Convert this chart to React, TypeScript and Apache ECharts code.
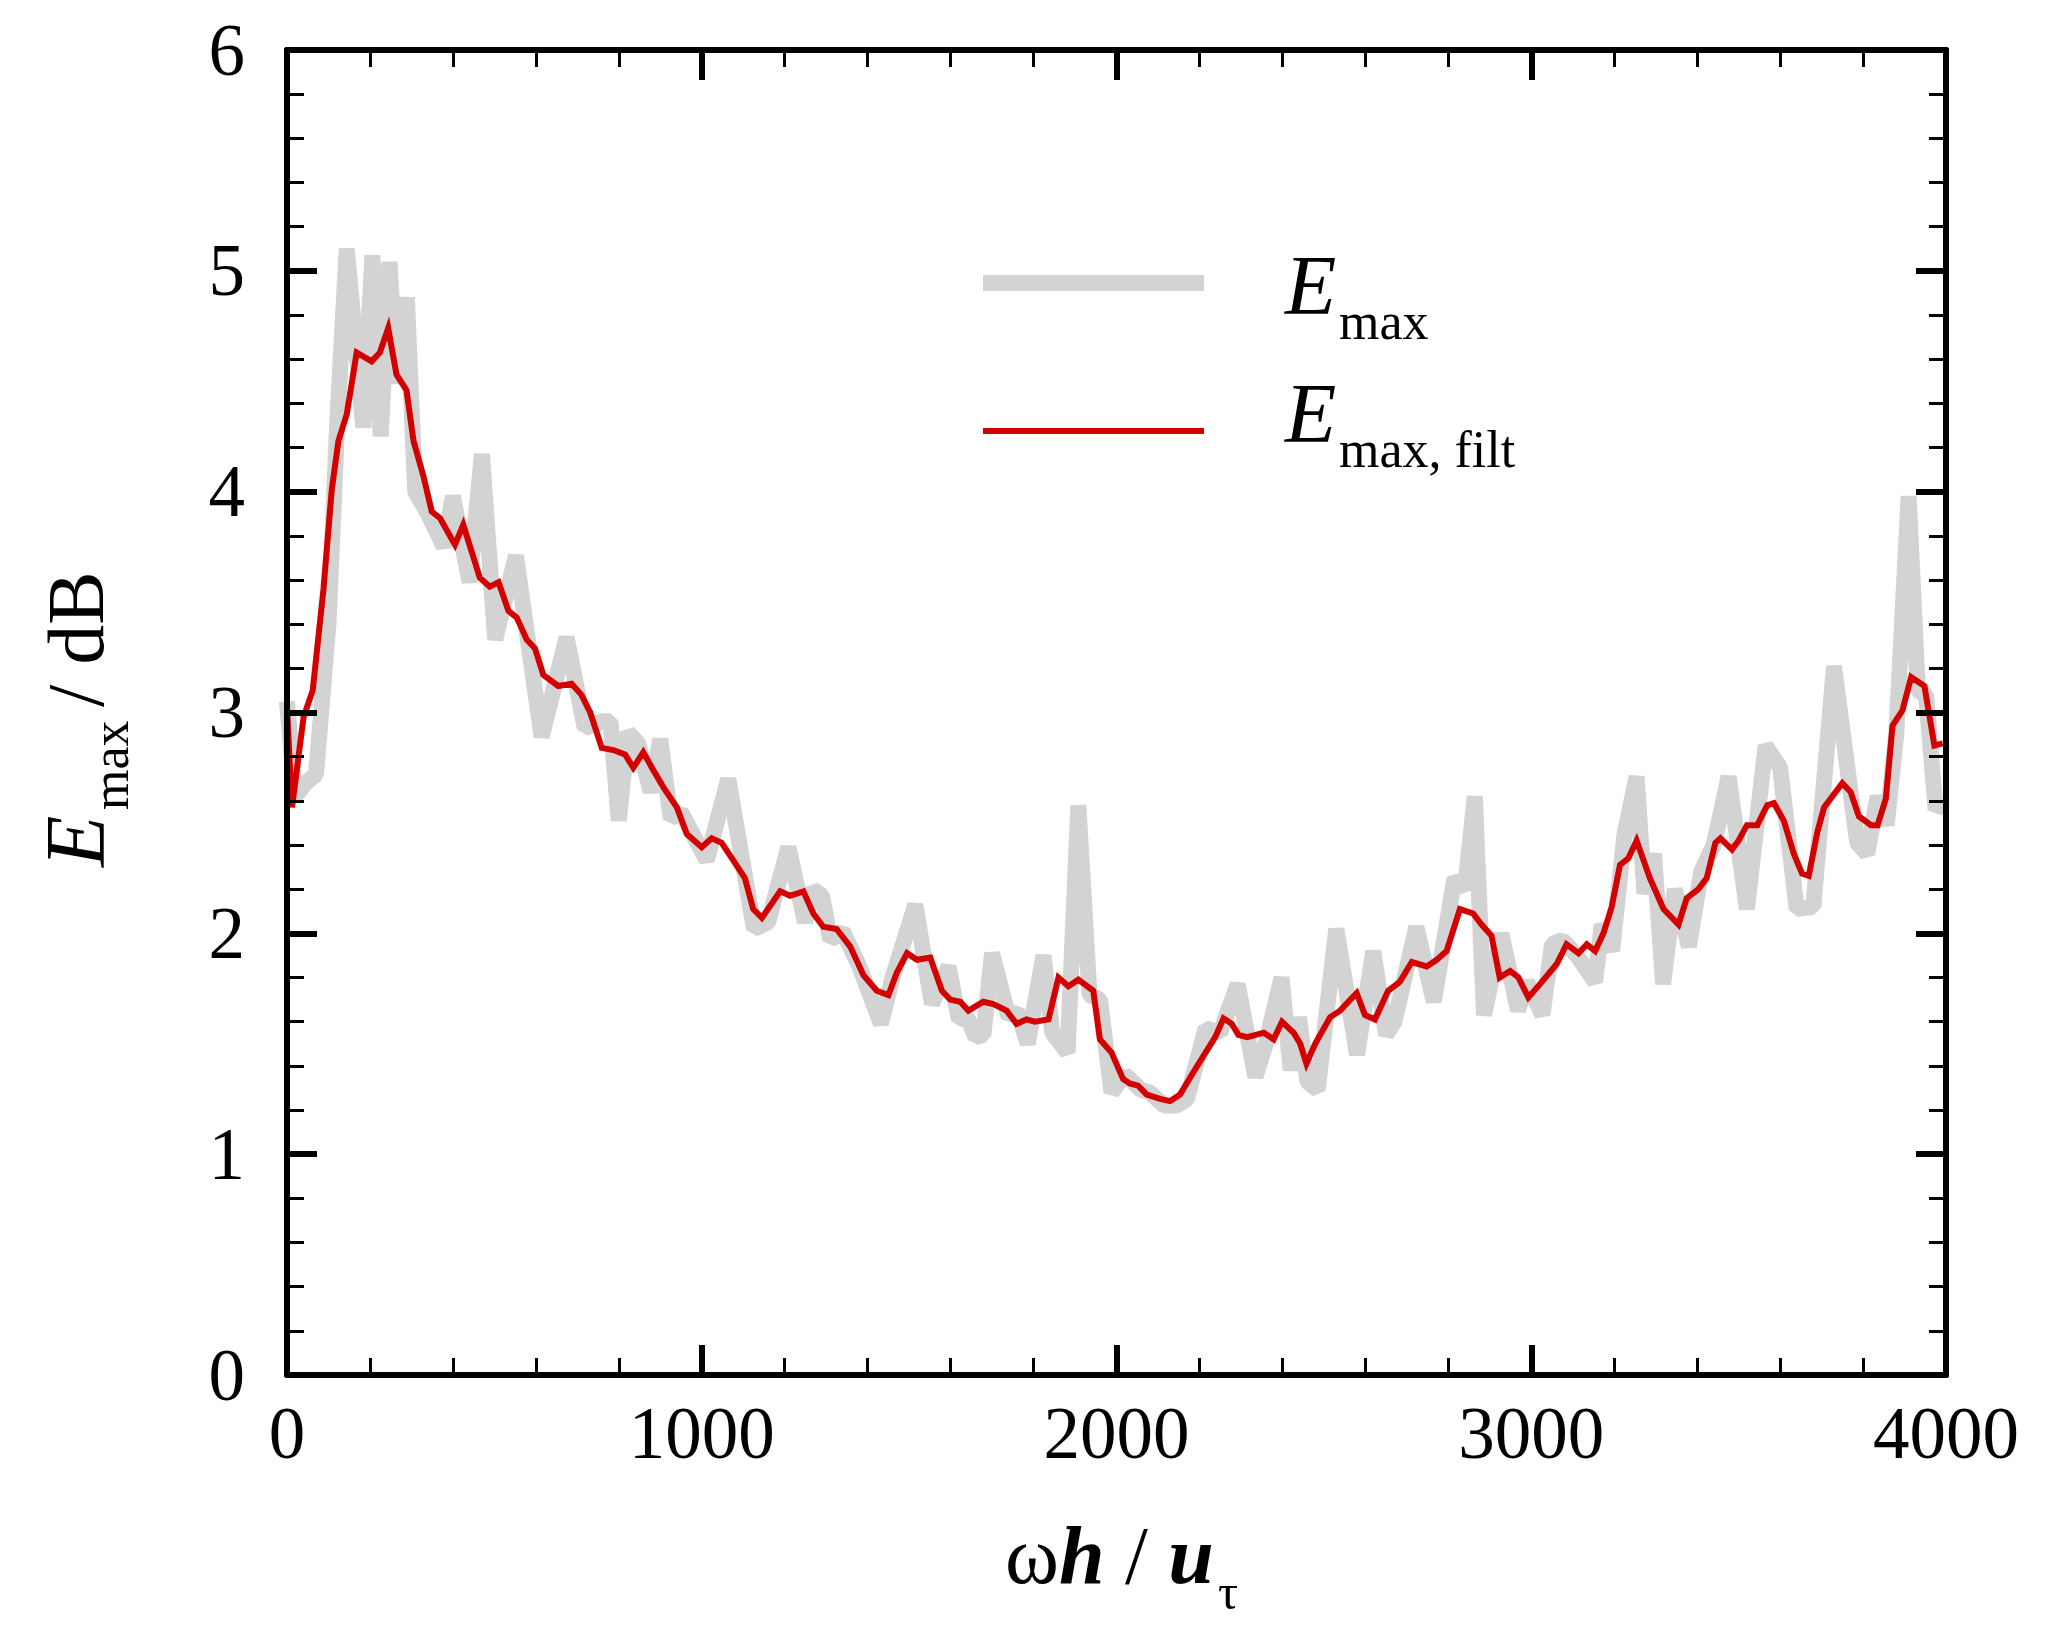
import React, { useEffect, useRef } from "react";
import * as echarts from "echarts";

// ---- data ----
const grayX = [0, 20, 45, 70, 100, 122, 144, 164, 184, 206, 226, 247, 265, 289, 309, 340, 378, 400, 440, 470, 502, 552, 614, 674, 718, 760, 780, 800, 822, 847, 877, 900, 925, 950, 992, 1012, 1064, 1126, 1160, 1209, 1249, 1268, 1290, 1310, 1340, 1380, 1432, 1460, 1515, 1555, 1595, 1620, 1640, 1660, 1679, 1700, 1740, 1760, 1786, 1824, 1845, 1882, 1908, 1935, 1960, 1988, 2020, 2060, 2080, 2115, 2145, 2170, 2215, 2250, 2292, 2335, 2360, 2398, 2420, 2440, 2460, 2485, 2530, 2580, 2619, 2650, 2670, 2723, 2765, 2815, 2840, 2864, 2886, 2928, 2968, 2990, 3027, 3050, 3075, 3110, 3154, 3170, 3195, 3225, 3254, 3273, 3296, 3318, 3346, 3380, 3410, 3440, 3476, 3520, 3565, 3600, 3640, 3680, 3730, 3786, 3810, 3835, 3857, 3880, 3910, 3932, 3952, 3975, 3995];
const grayY = [3.05, 2.62, 2.68, 2.72, 3.4, 4.35, 5.1, 4.7, 4.29, 5.07, 4.25, 5.04, 4.49, 4.88, 4.0, 3.9, 3.75, 3.98, 3.59, 4.17, 3.33, 3.71, 2.89, 3.34, 2.93, 2.96, 2.96, 2.51, 2.91, 2.86, 2.64, 2.88, 2.52, 2.55, 2.4, 2.33, 2.7, 2.02, 2.05, 2.39, 2.05, 2.2, 2.17, 1.97, 2.01, 1.85, 1.59, 1.8, 2.13, 1.68, 1.85, 1.61, 1.62, 1.53, 1.54, 1.91, 1.62, 1.65, 1.5, 1.9, 1.55, 1.46, 2.58, 1.72, 1.7, 1.28, 1.36, 1.29, 1.28, 1.22, 1.22, 1.25, 1.57, 1.55, 1.77, 1.35, 1.5, 1.8, 1.38, 1.62, 1.33, 1.29, 2.02, 1.45, 1.92, 1.54, 1.6, 2.03, 1.69, 2.25, 2.2, 2.62, 1.63, 2.0, 1.65, 1.78, 1.63, 1.95, 1.97, 1.9, 1.78, 2.04, 1.92, 2.45, 2.71, 2.18, 2.36, 1.77, 2.2, 1.94, 2.28, 2.4, 2.71, 2.11, 2.85, 2.75, 2.11, 2.12, 3.21, 2.41, 2.36, 2.62, 2.49, 2.9, 3.98, 3.1, 3.08, 2.56, 2.6];

const redX = [0, 12, 40, 62, 88, 108, 124, 144, 168, 204, 224, 244, 264, 288, 305, 329, 349, 369, 405, 425, 465, 489, 510, 534, 554, 578, 598, 618, 654, 686, 710, 731, 759, 787, 815, 835, 859, 883, 908, 940, 964, 1000, 1024, 1048, 1076, 1104, 1124, 1145, 1189, 1213, 1245, 1269, 1293, 1325, 1358, 1390, 1422, 1450, 1470, 1495, 1519, 1551, 1579, 1599, 1623, 1643, 1679, 1703, 1735, 1759, 1783, 1803, 1836, 1860, 1884, 1908, 1944, 1960, 1988, 2016, 2032, 2052, 2073, 2105, 2129, 2153, 2185, 2218, 2238, 2258, 2278, 2294, 2315, 2355, 2379, 2399, 2427, 2443, 2458, 2479, 2515, 2539, 2579, 2599, 2623, 2655, 2683, 2712, 2748, 2772, 2796, 2828, 2860, 2880, 2904, 2924, 2949, 2969, 2993, 3021, 3061, 3085, 3114, 3134, 3154, 3174, 3194, 3214, 3234, 3254, 3286, 3319, 3355, 3375, 3403, 3423, 3444, 3456, 3484, 3500, 3520, 3545, 3569, 3585, 3609, 3633, 3653, 3669, 3690, 3706, 3750, 3770, 3790, 3819, 3835, 3855, 3871, 3895, 3916, 3948, 3972, 3992];
const redY = [3.02, 2.57, 2.98, 3.1, 3.56, 4.01, 4.23, 4.35, 4.63, 4.59, 4.63, 4.74, 4.53, 4.46, 4.23, 4.07, 3.91, 3.88, 3.76, 3.85, 3.61, 3.57, 3.59, 3.46, 3.43, 3.33, 3.29, 3.17, 3.12, 3.13, 3.08, 3.0, 2.84, 2.83, 2.81, 2.75, 2.82, 2.74, 2.66, 2.57, 2.45, 2.39, 2.43, 2.41, 2.33, 2.25, 2.11, 2.07, 2.19, 2.17, 2.19, 2.09, 2.03, 2.02, 1.94, 1.81, 1.74, 1.72, 1.82, 1.91, 1.88, 1.89, 1.74, 1.7, 1.69, 1.65, 1.69, 1.68, 1.65, 1.59, 1.61, 1.6, 1.61, 1.8, 1.76, 1.79, 1.74, 1.52, 1.46, 1.34, 1.32, 1.31, 1.27, 1.25, 1.24, 1.27, 1.37, 1.47, 1.53, 1.615, 1.59, 1.54, 1.53, 1.55, 1.52, 1.6, 1.55, 1.5, 1.41, 1.5, 1.62, 1.65, 1.73, 1.63, 1.61, 1.74, 1.78, 1.87, 1.85, 1.88, 1.92, 2.11, 2.09, 2.04, 1.99, 1.8, 1.83, 1.8, 1.71, 1.77, 1.86, 1.95, 1.91, 1.95, 1.92, 2.0, 2.12, 2.31, 2.34, 2.42, 2.25, 2.11, 2.04, 2.16, 2.2, 2.25, 2.41, 2.43, 2.38, 2.42, 2.49, 2.49, 2.58, 2.59, 2.51, 2.36, 2.27, 2.26, 2.46, 2.57, 2.68, 2.64, 2.53, 2.49, 2.49, 2.61, 2.94, 3.01, 3.16, 3.12, 2.85, 2.86];

const xRange = [0, 4000];
const yRange = [0, 6];
const xStep = 1000;
const yStep = 1;

const seriesNames = ["E_max", "E_max, filt"];
const legendSubs = ["max", "max, filt"];

const FONT = '"Liberation Serif", "Times New Roman", serif';

function axisCommon(show: boolean) {
  return {
    axisLine: { show: true, onZero: false, lineStyle: { color: "#000", width: 6 } },
    axisTick: { show: true, inside: true, length: 30, lineStyle: { color: "#000", width: 6 } },
    minorTick: { show: true, splitNumber: 5, length: 17, lineStyle: { color: "#000", width: 3 } },
    splitLine: { show: false },
    minorSplitLine: { show: false },
    z: 5,
    axisLabel: {
      show,
      color: "#000",
      fontFamily: FONT,
      fontSize: 73,
      formatter: (v: number) => String(v),
    },
  };
}

export default function App() {
  const ref = useRef<HTMLDivElement>(null);
  useEffect(() => {
    if (!ref.current) return;
    const chart = echarts.init(ref.current, null, { renderer: "svg" });
    const gray = grayX.map((x, i) => [x, grayY[i]]);
    const red = redX.map((x, i) => [x, redY[i]]);
    const xb = axisCommon(true);
    const yb = axisCommon(true);
    const option: any = {
      animation: false,
      backgroundColor: "#fff",
      grid: { left: 287, right: 102, top: 50, bottom: 264, containLabel: false },
      xAxis: [
        {
          type: "value",
          min: xRange[0],
          max: xRange[1],
          interval: xStep,
          position: "bottom",
          ...xb,
          axisLabel: { ...xb.axisLabel, margin: 22 },
        },
        {
          type: "value",
          min: xRange[0],
          max: xRange[1],
          interval: xStep,
          position: "top",
          ...axisCommon(false),
        },
      ],
      yAxis: [
        {
          type: "value",
          min: yRange[0],
          max: yRange[1],
          interval: yStep,
          position: "left",
          ...yb,
          axisLabel: { ...yb.axisLabel, margin: 42 },
        },
        {
          type: "value",
          min: yRange[0],
          max: yRange[1],
          interval: yStep,
          position: "right",
          ...axisCommon(false),
        },
      ],
      series: [
        {
          name: seriesNames[0],
          type: "line",
          data: gray,
          showSymbol: false,
          symbol: "none",
          lineStyle: { color: "#d3d3d3", width: 16, join: "bevel", cap: "butt" },
          z: 2,
        },
        {
          name: seriesNames[1],
          type: "line",
          data: red,
          showSymbol: false,
          symbol: "none",
          lineStyle: { color: "#d40000", width: 6, join: "miter" },
          z: 3,
        },
      ],
      graphic: [
        // legend samples
        { type: "line", shape: { x1: 983, y1: 283, x2: 1204, y2: 283 }, style: { stroke: "#d3d3d3", lineWidth: 16 } },
        { type: "line", shape: { x1: 983, y1: 431, x2: 1204, y2: 431 }, style: { stroke: "#d40000", lineWidth: 6 } },
        { type: "text", x: 1285, y: 285, style: { text: "E", fontFamily: FONT, fontStyle: "italic", fontSize: 84, fill: "#000", align: "left", verticalAlign: "middle" } },
        { type: "text", x: 1339, y: 321, style: { text: legendSubs[0], fontFamily: FONT, fontSize: 52, fill: "#000", align: "left", verticalAlign: "middle" } },
        { type: "text", x: 1285, y: 413, style: { text: "E", fontFamily: FONT, fontStyle: "italic", fontSize: 84, fill: "#000", align: "left", verticalAlign: "middle" } },
        { type: "text", x: 1339, y: 449, style: { text: legendSubs[1], fontFamily: FONT, fontSize: 52, fill: "#000", align: "left", verticalAlign: "middle" } },
        // x axis title
        {
          type: "text",
          x: 1005,
          y: 1555,
          style: {
            text: "{a|ω}{b|h}{a| / }{b|u}",
            fill: "#000",
            align: "left",
            verticalAlign: "middle",
            rich: {
              a: { fontFamily: FONT, fontSize: 82, fill: "#000" },
              b: { fontFamily: FONT, fontSize: 82, fontStyle: "italic", fontWeight: "bold", fill: "#000" },
            },
          },
        },
        { type: "text", x: 1218, y: 1592, style: { text: "τ", fontFamily: FONT, fontSize: 50, fill: "#000", align: "left", verticalAlign: "middle" } },
        // y axis title (rotated)
        {
          type: "group",
          x: 103,
          y: 867,
          rotation: Math.PI / 2,
          children: [
            { type: "text", x: 0, y: -28, style: { text: "E", fontFamily: FONT, fontStyle: "italic", fontSize: 84, fill: "#000", align: "left", verticalAlign: "middle" } },
            { type: "text", x: 57, y: 7, style: { text: "max", fontFamily: FONT, fontSize: 52, fill: "#000", align: "left", verticalAlign: "middle" } },
            { type: "text", x: 160, y: -27, style: { text: "/ dB", fontFamily: FONT, fontSize: 80, fill: "#000", align: "left", verticalAlign: "middle" } },
          ],
        },
      ],
    };
    chart.setOption(option);
    return () => chart.dispose();
  }, []);
  return (
    <div
      ref={ref}
      style={{ position: "fixed", left: 0, top: 0, width: 2048, height: 1639, background: "#fff" }}
    />
  );
}
